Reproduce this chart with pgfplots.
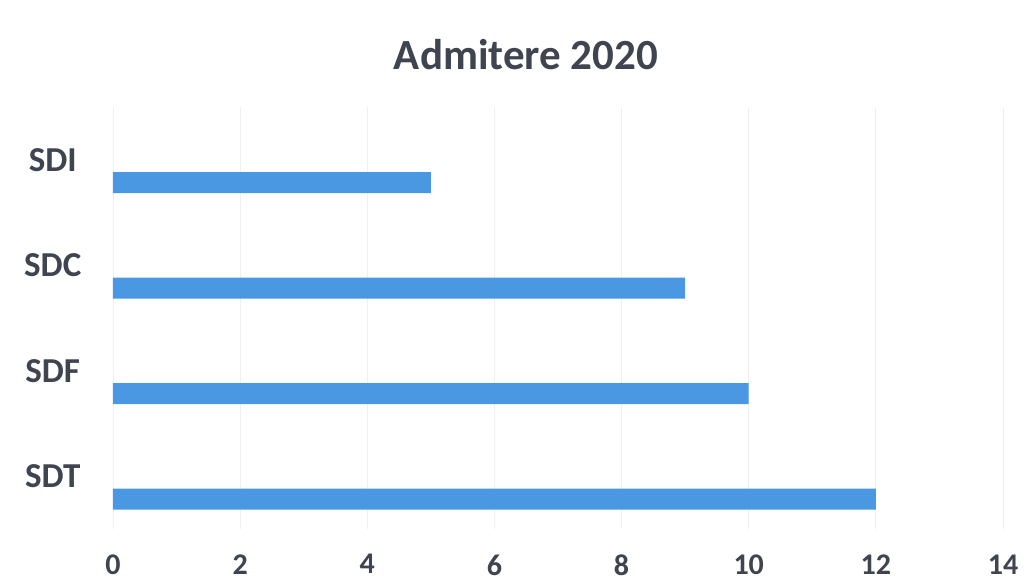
\documentclass[border=0pt]{standalone}
\usepackage{fontspec}
\setmainfont{Carlito}
\usepackage{pgfplots}
\pgfplotsset{compat=1.18}
\definecolor{barblue}{HTML}{4A97E2}
\definecolor{txt}{HTML}{3F4550}
\definecolor{gridc}{HTML}{F0F0F0}
\begin{document}
\begin{tikzpicture}
\path[use as bounding box] (-113pt,-56pt) rectangle (919pt,529pt);
\fill[white] (-113pt,-56pt) rectangle (919pt,529pt);
\begin{axis}[
    at={(0pt,0pt)}, anchor=south west,
    scale only axis,
    width=890pt, height=422pt,
    xbar, bar width=21pt, bar shift=-23pt,
    xmin=0, xmax=14,
    ymin=-0.5, ymax=3.5,
    xtick={0,2,...,14},
    ytick={0,1,2,3},
    yticklabels={SDT,SDF,SDC,SDI},
    xmajorgrids, major grid style={gridc, line width=0.8pt},
    axis line style={draw=none},
    major tick style={draw=none},
    /pgf/number format/assume math mode=true,
    xticklabel style={font=\fontsize{30}{32}\selectfont\bfseries, text=txt, anchor=north, yshift=-22pt},
    yticklabel style={font=\fontsize{35}{38}\selectfont\bfseries, text=txt, anchor=center, xshift=-56pt},
]
\addplot[fill=barblue, draw=none] coordinates {(5,3) (9,2) (10,1) (12,0)};
\end{axis}
\node[text=txt, font=\fontsize{43}{46}\selectfont\bfseries] at (413pt,474pt) {Admitere 2020};
\end{tikzpicture}
\end{document}
